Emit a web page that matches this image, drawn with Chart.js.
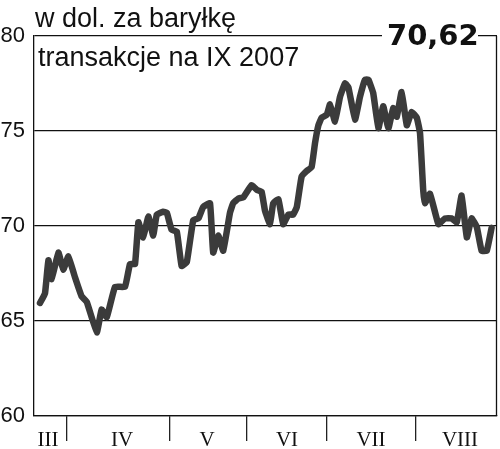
<!DOCTYPE html>
<html>
<head>
<meta charset="utf-8">
<script src="https://cdn.jsdelivr.net/npm/chart.js@4.4.0/dist/chart.umd.min.js"></script>
<style>
  html, body { margin: 0; padding: 0; background: #fff; }
  #wrap { width: 500px; height: 449px; }
</style>
</head>
<body>
<div id="wrap"><canvas id="oil" width="500" height="449"></canvas></div>
<script>
// x = session number (about 4 px each), y = dollars per barrel
var sessions = [1.5, 2.75, 3.6, 4.4, 6.1, 7.3, 8.6, 10.25, 11.9, 13.2, 15.7, 16.9, 18.2, 20.25, 22.75,
    24, 25.25, 26.1, 27.3, 28.6, 29.8, 30.7, 32.3, 33.2, 34.4, 35.7, 36.9, 38.2, 39.8, 41.1, 42.3,
    44, 44.8, 46.1, 47.3, 49, 49.8, 51.1, 52.3, 54.4, 55.7, 56.9, 57.75, 59, 59.8, 61.1, 62.3, 63.6,
    64.8, 65.7, 66.9, 68.2, 69.4, 70.25, 71.1, 71.9, 73.2, 74, 75.25, 76.5, 77.75, 78.6, 80.25, 81.5,
    82.75, 83.6, 84.8, 86.1, 87.3, 88.6, 89.8, 90.7, 91.9, 93.2, 94.4, 95.7, 96.5, 97.3, 97.75, 99,
    101.1, 102.75, 104.4, 105.7, 106.9, 108.2, 109.4, 110.7, 111.9, 113.2, 114.4]
var prices = [65.95, 66.46, 68.2, 67.2, 68.6, 67.7, 68.4, 67.3, 66.3, 66.0, 64.4, 65.6, 65.2, 66.8, 66.8,
    68.0, 68.0, 70.2, 69.4, 70.5, 69.5, 70.6, 70.75, 70.7, 69.8, 69.7, 67.9, 68.1, 70.3, 70.4, 71.0,
    71.2, 68.6, 69.5, 68.7, 70.7, 71.2, 71.45, 71.5, 72.15, 71.9, 71.8, 70.8, 70.1, 71.2, 71.4, 70.1, 70.6,
    70.6, 71.0, 72.6, 72.9, 73.1, 74.35, 75.3, 75.7, 75.85, 76.4, 75.5, 76.8, 77.5, 77.3, 75.6, 76.8,
    77.7, 77.7, 77.0, 75.15, 76.3, 75.15, 76.2, 75.75, 77.05, 75.3, 76.0, 75.7, 74.9, 71.9, 71.2, 71.7,
    70.1, 70.4, 70.4, 70.2, 71.6, 69.4, 70.4, 69.95, 68.7, 68.7, 69.9]

var months = ['III', 'IV', 'V', 'VI', 'VII', 'VIII']
var monthCenters = [3.5, 22, 43.25, 63.25, 84.25, 106.5]
var monthBreaks = [8.25, 34, 53.25, 73.25, 95.5]
var lastSession = 115.75

var titleTop = 'w dol. za baryłkę'
var titleSub = 'transakcje na IX 2007'
var lastPrice = '70,62'

var points = []
for (var i = 0; i < sessions.length; i++) {
    points.push({x: sessions[i], y: prices[i]})
}

var frame = {
    id: 'frame',
    afterDraw: function(chart) {
        var c = chart.ctx
        var a = chart.chartArea
        c.save()
        // right side of the box
        c.strokeStyle = '#111'
        c.lineWidth = 1.3
        c.beginPath()
        c.moveTo(a.right - 0.5, a.top)
        c.lineTo(a.right - 0.5, a.bottom)
        c.stroke()
        // gap in the top line for the last price
        c.fillStyle = '#fff'
        c.fillRect(382, a.top - 4, 96, 8)
        c.fillStyle = '#111'
        c.textBaseline = 'alphabetic'
        c.font = '27px "Liberation Sans", Arial, sans-serif'
        c.fillText(titleTop, 35, 27)
        c.fillText(titleSub, 38, 66)
        c.font = 'bold 29px "DejaVu Sans", sans-serif'
        c.fillText(lastPrice, 387, 45)
        c.restore()
    }
}

var ctx = document.getElementById('oil')
var oilChart = new Chart(ctx, {
    type: 'line',
    data: {
        datasets: [{
            data: points,
            borderColor: '#3b3b3b',
            borderWidth: 6.5,
            pointRadius: 0,
            tension: 0.1,
            borderJoinStyle: 'round',
            borderCapStyle: 'round',
            fill: false
        }]
    },
    options: {
        responsive: false,
        animation: false,
        layout: {padding: {top: 36, right: 3, left: 0, bottom: 0}},
        plugins: {legend: {display: false}, tooltip: {enabled: false}},
        scales: {
            x: {
                type: 'linear',
                min: 0,
                max: lastSession,
                afterFit: function(scale) { scale.height = 33 },
                afterBuildTicks: function(scale) {
                    var t = monthCenters.concat(monthBreaks).sort(function(a, b) { return a - b })
                    scale.ticks = t.map(function(v) { return {value: v} })
                },
                border: {display: true, color: '#111', width: 1.3},
                grid: {
                    drawOnChartArea: false,
                    drawTicks: true,
                    tickLength: 25,
                    lineWidth: 1.3,
                    color: function(context) {
                        if (context.tick && monthBreaks.indexOf(context.tick.value) >= 0) return '#222'
                        return 'rgba(0,0,0,0)'
                    }
                },
                ticks: {
                    autoSkip: false,
                    maxRotation: 0,
                    padding: -13,
                    color: '#111',
                    font: {family: '"Liberation Serif", "Times New Roman", serif', size: 21},
                    callback: function(value) {
                        var k = monthCenters.indexOf(value)
                        return k >= 0 ? months[k] : ''
                    }
                }
            },
            y: {
                min: 60,
                max: 80,
                afterFit: function(scale) { scale.width = 34 },
                border: {display: true, color: '#111', width: 1.3},
                grid: {color: '#111', lineWidth: 1.3, drawTicks: false},
                ticks: {
                    stepSize: 5,
                    padding: 9,
                    color: '#111',
                    font: {family: '"Liberation Sans", Arial, sans-serif', size: 22}
                }
            }
        }
    },
    plugins: [frame]
})
</script>
</body>
</html>
